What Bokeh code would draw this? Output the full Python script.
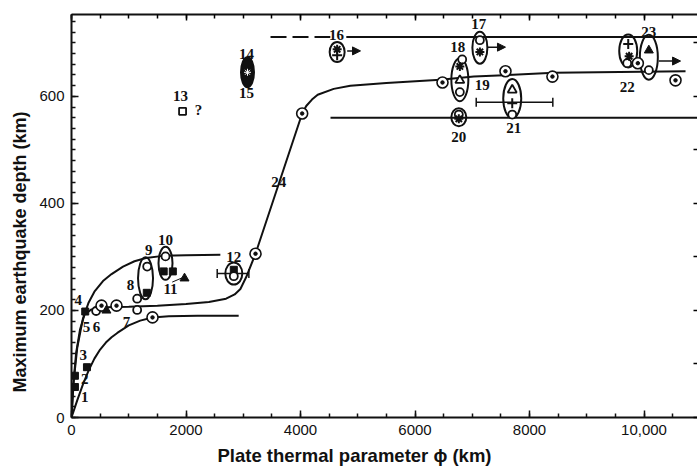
import math
from bokeh.plotting import figure
from bokeh.models import Range1d, LinearAxis, Title, Arrow, NormalHead, FixedTicker, ColumnDataSource
from bokeh.embed import file_html
from bokeh.resources import INLINE
from bokeh.core.properties import value

# ---------------- data ----------------
# curves
low_x = [0, 100, 200, 300, 400, 500, 600, 700, 800, 1000, 1200, 1415, 1700, 2200, 2920]
low_y = [0, 32, 62, 88, 110, 127, 140, 150, 158, 172, 181, 187, 189, 190, 190]

up_x = [0, 40, 100, 200, 300, 400, 550, 700, 900, 1100, 1300, 1600, 2000, 2600]
up_y = [0, 70, 130, 185, 215, 235, 255, 268, 282, 292, 298, 302, 303, 304]

mid_x = [0, 30, 80, 150, 230, 350, 600, 1000, 1500, 2000, 2400, 2700, 2850, 2950, 3050,
         3214, 4029, 4100, 4200, 4300, 4580, 4870, 5500, 6445, 7028, 8425, 10725]
mid_y = [0, 60, 120, 165, 193, 202, 206, 207, 209, 212, 216, 222, 230, 240, 262,
         306, 568, 582, 594, 603, 614, 620, 625, 631, 637, 644, 647]

# horizontal reference levels
dash_x0, dash_x1, top_level = 3476, 4520, 711
solid_top_x0, solid_top_x1 = 4800, 10934
low_level_x0, low_level_x1, low_level = 4524, 10934, 560

# symbols
sq_x = [60, 60, 270, 240, 1315, 1610, 1770, 2835]
sq_y = [78, 57, 94, 198, 233, 273, 273, 276]

osq_x = [1940]
osq_y = [572]

oc_x = [430, 1147, 1147, 1322, 1642, 2835, 7133, 6824, 6783, 6765, 7698, 9706, 10084]
oc_y = [199, 222, 201, 282, 301, 264, 705, 669, 608, 566, 566, 662, 649]

cd_x = [524, 786, 1415, 3214, 4029, 6480, 7580, 8400, 9892, 10550]
cd_y = [209, 209, 187, 306, 568, 626, 647, 637, 662, 630]

otri_x = [6783, 7698]
otri_y = [630, 612]

ftri_x = [1974, 10084, 610]
ftri_y = [260, 686, 200]

star_x = [7133, 6783, 6765, 9740, 4640]
star_y = [683, 656, 558, 675, 688]

plus_x = [7698, 9724, 4640]
plus_y = [587, 698, 677]

# grouping ellipses
el_x = [1293, 1642, 2835, 4640, 7133, 6783, 6765, 7698, 9724, 10084]
el_y = [260, 288, 269, 683, 691, 631, 561, 596, 685, 673]
el_w_px = [15, 14, 17, 15, 15, 17, 15, 18, 18, 18]
el_h_px = [42, 33, 22, 20, 32, 43, 18, 39, 33, 45]

blk_x, blk_y = [3074], [645]

# error bars
eb_x0 = [2545, 7069]
eb_x1 = [3098, 8407]
eb_y = [269, 589]

# arrows (lower bounds)
ar_x0 = [4815, 7272, 10259]
ar_x1 = [5048, 7580, 10638]
ar_y = [685, 692, 666]

# number labels
lab_text = ["1", "2", "3", "4", "5", "6", "7", "8", "9", "10", "11", "12", "13", "?",
            "14", "15", "16", "17", "18", "19", "20", "21", "22", "23", "24"]
lab_x = [232, 232, 204, 117, 262, 437, 961, 1031, 1350, 1642, 1729, 2835, 1904, 2218,
         3057, 3057, 4629, 7114, 6748, 7174, 6765, 7726, 9706, 10084, 3621]
lab_y = [38, 72, 116, 219, 169, 169, 178, 247, 313, 331, 241, 300, 600, 574,
         679, 607, 714, 735, 693, 621, 525, 540, 617, 720, 440]

x_ticks = [0, 2000, 4000, 6000, 8000, 10000]
y_ticks = [0, 200, 400, 600]
x_minor = list(range(0, 11000, 500))
y_minor = list(range(0, 760, 20))
right_ticks = list(range(0, 760, 100))

x_title = "Plate thermal parameter \u03d5 (km)"
y_title = "Maximum earthquake depth (km)"

# ---------------- figure ----------------
INK = "#111111"
p = figure(width=697, height=471, output_backend="svg", toolbar_location=None,
           x_range=Range1d(0, 10934), y_range=Range1d(0, 753),
           min_border_left=71, min_border_right=0, min_border_top=14, min_border_bottom=54,
           background_fill_color="white", border_fill_color="white")
p.outline_line_color = None
p.grid.visible = False

for ax in (p.xaxis[0], p.yaxis[0]):
    ax.axis_line_width = 2
    ax.axis_line_color = INK
    ax.major_tick_in = 7
    ax.major_tick_out = 0
    ax.minor_tick_in = 4
    ax.minor_tick_out = 0
    ax.major_tick_line_width = 1.5
    ax.minor_tick_line_width = 1.5
    ax.major_tick_line_color = INK
    ax.minor_tick_line_color = INK
    ax.major_label_text_font = "Liberation Sans"
    ax.major_label_text_font_size = "15px"
    ax.major_label_text_color = INK
    ax.major_label_standoff = 7

p.xaxis[0].ticker = FixedTicker(ticks=x_ticks, minor_ticks=x_minor)
p.xaxis[0].major_label_overrides = {10000: "10,000"}
p.yaxis[0].ticker = FixedTicker(ticks=y_ticks, minor_ticks=y_minor)

top = LinearAxis(ticker=FixedTicker(ticks=x_ticks, minor_ticks=x_minor),
                 major_label_overrides={t: "" for t in x_ticks}, major_label_standoff=0,
                 axis_line_width=2, axis_line_color=INK,
                 major_tick_in=6, major_tick_out=0, minor_tick_in=4, minor_tick_out=0,
                 major_tick_line_width=1.5, minor_tick_line_width=1.5)
p.add_layout(top, "above")
right = LinearAxis(ticker=FixedTicker(ticks=right_ticks, minor_ticks=[]),
                   major_label_overrides={t: "" for t in right_ticks}, major_label_standoff=0,
                   axis_line_color=None, major_tick_in=4, major_tick_out=0,
                   major_tick_line_width=1.5)
p.add_layout(right, "right")

# axis titles as side-panel titles, anchored at their start with a pixel offset
p.add_layout(Title(text=y_title, align="left", offset=25, standoff=14,
                   text_font="Liberation Sans", text_font_style="bold",
                   text_font_size="18px", text_color=INK), "left")
p.add_layout(Title(text=x_title, align="left", offset=146, standoff=11,
                   text_font="Liberation Sans", text_font_style="bold",
                   text_font_size="18.5px", text_color=INK), "below")

# curves
p.line(low_x, low_y, line_color=INK, line_width=2)
p.line(up_x, up_y, line_color=INK, line_width=2)
p.line(mid_x, mid_y, line_color=INK, line_width=2)
p.segment([dash_x0], [top_level], [dash_x1], [top_level], line_color=INK, line_width=2,
          line_dash="16 6")
p.segment([solid_top_x0], [top_level], [solid_top_x1], [top_level], line_color=INK, line_width=2)
p.segment([low_level_x0], [low_level], [low_level_x1], [low_level], line_color=INK, line_width=2)

# error bars
p.segment(eb_x0, eb_y, eb_x1, eb_y, line_color=INK, line_width=1.5)
p.scatter(eb_x0 + eb_x1, eb_y + eb_y, marker="dash", angle=math.pi / 2, size=9,
          line_color=INK, line_width=1.5)

# leader line for 11
p.segment([1759], [253], [1934], [261], line_color=INK, line_width=1)

# ellipses
p.ellipse(el_x, el_y, width=el_w_px, height=el_h_px, width_units="screen",
          height_units="screen", fill_color=None, line_color=INK, line_width=2)
p.ellipse(blk_x, blk_y, width=13, height=30, width_units="screen", height_units="screen",
          fill_color=INK, line_color=INK, line_width=2)
p.scatter(blk_x, blk_y, marker="asterisk", size=7, line_color="white", line_width=1)

# symbols
p.scatter(sq_x, sq_y, marker="square", size=7, fill_color=INK, line_color=INK)
p.scatter(osq_x, osq_y, marker="square", size=7, fill_color="white", line_color=INK,
          line_width=1.8)
p.scatter(oc_x, oc_y, marker="circle", size=8, fill_color="white", line_color=INK,
          line_width=1.8)
p.scatter(cd_x, cd_y, marker="circle_dot", size=11, fill_color="white", line_color=INK,
          line_width=1.6)
p.scatter(cd_x, cd_y, marker="circle", size=3.5, fill_color=INK, line_color=INK)
p.scatter(otri_x, otri_y, marker="triangle", size=9, fill_color="white", line_color=INK,
          line_width=1.8)
p.scatter(ftri_x, ftri_y, marker="triangle", size=9, fill_color=INK, line_color=INK)
p.scatter(star_x, star_y, marker="asterisk", size=9, line_color=INK, line_width=2)
p.scatter(plus_x, plus_y, marker="cross", size=10, line_color=INK, line_width=2)

# arrows
asrc = ColumnDataSource(dict(x0=ar_x0, x1=ar_x1, y=ar_y))
p.add_layout(Arrow(x_start="x0", y_start="y", x_end="x1", y_end="y", source=asrc,
                   line_color=INK, line_width=1.5,
                   end=NormalHead(size=8, fill_color=INK, line_color=INK)))

# number labels
p.text(lab_x, lab_y, text=lab_text, text_align="center", text_baseline="middle",
       text_font=value("Liberation Serif"), text_font_style="bold",
       text_font_size="15px", text_color=INK)

open("out.html", "w").write(file_html(p, INLINE))
